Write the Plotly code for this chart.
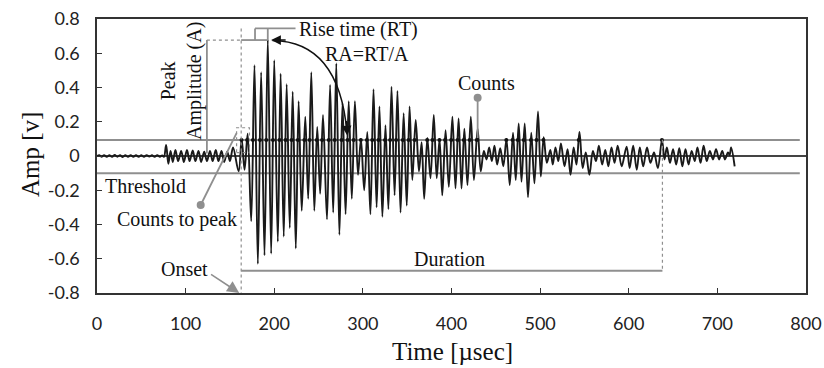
import plotly.graph_objects as go

# ---------------- data ----------------
wave_t = [0, 2.5, 5, 8, 11, 14, 17, 20, 23, 26, 29, 32, 35, 38, 41, 44, 47, 50, 53, 56, 59, 62, 65, 68, 71, 73.5,
          75.5, 78, 80.5, 83, 85.5, 88.5, 91.5, 95, 98, 101.5, 104.5, 108, 111, 114.5, 117.5, 121, 124, 127.5,
          130.5, 134, 137, 140.5, 143.5, 147, 150, 153.5,
          159.8, 163.2, 166.5, 170.0, 174.0, 177.7, 181.5, 185.2, 189.0, 192.7, 196.5, 200.0, 204.0, 207.2,
          210.7, 214.0, 217.5, 220.8, 224.3, 227.5, 231.0, 235.0, 238.3, 241.8, 245.2, 248.5, 251.8, 255.0,
          259.5, 263.0, 266.5, 270.0, 273.5, 277.0, 280.5, 284.0, 287.5, 291.0, 294.5, 297.8, 301.5, 305.0,
          308.5, 312.0, 315.5, 318.7, 322.0, 325.5, 328.8, 332.3, 335.8, 339.0, 342.5, 346.0, 349.5, 352.7,
          355.8, 359.6, 363.3, 366.3, 369.2, 372.7, 376.3, 380.0, 383.3, 386.5, 389.6, 393.3, 397.0, 401.0,
          404.5, 408.0, 411.3, 414.5, 418.0, 421.8, 425.3, 429.5, 433.0, 436.5, 439.5, 442.5, 445.5, 448.5,
          451.5, 455.0, 458.5, 462.0, 465.7, 469.4, 472.5, 475.8, 479.0, 482.6, 486.3, 490.0, 493.6, 497.6,
          500.8, 504.0, 507.6, 511.5, 514.3, 517.3, 520.5, 523.5, 527.5, 531.0, 534.3, 537.8, 541.0, 544.4,
          548.0, 551.5, 555.6, 559.5, 563.0, 566.3, 570.0, 573.5, 577.0, 580.5, 584.0, 587.5, 592.0, 597.6,
          601.0, 605.0, 609.0, 612.5, 616.3, 620.6, 624.5, 628.5, 632.8, 637.5, 640.3, 643.0, 646.5, 650.0,
          653.5, 657.0, 660.5, 664.0, 667.5, 671.0, 674.5, 677.5, 681.0, 684.5, 688.0, 691.5, 695.0, 698.5,
          702.0, 705.5, 708.5, 712.0, 713.8, 715.5, 719.5]
wave_v = [0.0, 0.005, -0.004, 0.005, -0.005, 0.004, -0.005, 0.006, -0.004, 0.005, -0.006, 0.004, -0.005, 0.005,
          -0.004, 0.005, -0.005, 0.004, -0.005, 0.005, -0.003, 0.004, -0.005, 0.005, -0.004, 0.003,
          -0.005, 0.065, -0.045, 0.03, -0.035, 0.035, -0.03, 0.03, -0.035, 0.035, -0.03, 0.032, -0.03, 0.03,
          -0.035, 0.025, -0.03, 0.03, -0.03, 0.035, -0.03, 0.03, -0.035, 0.025, -0.03, 0.05,
          -0.09, 0.10, -0.08, 0.13, -0.38, 0.53, -0.63, 0.49, -0.58, 0.68, -0.57, 0.56, -0.50, 0.48,
          -0.47, 0.42, -0.42, 0.375, -0.54, 0.32, -0.32, 0.23, -0.25, 0.49, -0.32, 0.17, -0.22, 0.24,
          -0.37, 0.415, -0.33, 0.54, -0.46, 0.31, -0.34, 0.32, -0.25, 0.32, -0.11, 0.10, -0.20, 0.14,
          -0.34, 0.39, -0.30, 0.29, -0.355, 0.18, -0.31, 0.405, -0.23, 0.38, -0.33, 0.25, -0.29, 0.29,
          -0.14, 0.21, -0.09, 0.08, -0.25, 0.105, -0.13, 0.24, -0.13, 0.10, -0.23, 0.15, -0.18, 0.23,
          -0.19, 0.22, -0.19, 0.16, -0.17, 0.23, -0.14, 0.16, -0.09, 0.03, -0.02, 0.05, -0.03, 0.06,
          -0.05, 0.045, -0.06, 0.10, -0.17, 0.136, -0.14, 0.19, -0.15, 0.19, -0.24, 0.136, -0.16, 0.26,
          -0.12, 0.11, -0.04, 0.035, -0.05, 0.05, -0.03, 0.074, -0.06, 0.04, -0.11, 0.05, -0.05, 0.14,
          -0.07, 0.02, -0.11, 0.03, -0.03, 0.06, -0.05, 0.035, -0.06, 0.05, -0.04, 0.06, -0.06, 0.055,
          -0.07, 0.06, -0.08, 0.05, -0.06, 0.05, -0.04, 0.02, -0.07, 0.095, -0.02, 0.05, -0.04, 0.04,
          -0.05, 0.045, -0.06, 0.04, -0.05, 0.03, -0.03, 0.05, -0.04, 0.06, -0.03, 0.03, -0.02, 0.04,
          -0.02, 0.03, -0.02, 0.02, 0.005, 0.05, -0.06]

threshold_up = 0.093
threshold_low = -0.100
onset_t = 162.7
peak_t = 192.7
peak_amp = 0.677
end_t = 638.0
duration_level = -0.67
counts_t = 429.5
counts_dot_v = 0.34
pa_line_t = 124.0
ctp_dot = (117.0, -0.286)
ctp_end = (157.5, 0.134)

x_ticks = [0, 100, 200, 300, 400, 500, 600, 700, 800]
x_ticklabels = ["0", "100", "200", "300", "400", "500", "600", "700", "800"]
y_ticks = [0.8, 0.6, 0.4, 0.2, 0.0, -0.2, -0.4, -0.6, -0.8]
y_ticklabels = ["0.8", "0.6", "0.4", "0.2", "0", "-0.2", "-0.4", "-0.6", "-0.8"]

GRAY = "#8f8f8f"
SERIF = "Liberation Serif"
L, R, T, B = 97, 18, 19, 75
W, H = 824, 368

cross_t = []
for i in range(1, len(wave_t)):
    a, b = wave_v[i - 1], wave_v[i]
    if a < threshold_up <= b:
        f = (threshold_up - a) / (b - a)
        cross_t.append(wave_t[i - 1] + f * (wave_t[i] - wave_t[i - 1]))

fig = go.Figure()

for lvl in (threshold_up, threshold_low):
    fig.add_trace(go.Scatter(x=[0, 793], y=[lvl, lvl], mode="lines",
                             line=dict(color=GRAY, width=2), hoverinfo="skip", showlegend=False))

fig.add_trace(go.Scatter(x=wave_t, y=wave_v, mode="lines",
                         line=dict(color="#1a1a1a", width=1.9, shape="spline", smoothing=1.0),
                         showlegend=False))

fig.add_trace(go.Scatter(x=cross_t, y=[threshold_up] * len(cross_t), mode="markers",
                         marker=dict(color="#111", size=4), showlegend=False))


def seg(x0, y0, x1, y1, dash="solid", color=GRAY, width=1.8):
    fig.add_shape(type="line", x0=x0, y0=y0, x1=x1, y1=y1, xref="x", yref="y",
                  line=dict(color=color, width=width, dash=dash))


top_v = 0.745
seg(onset_t, top_v, onset_t, -0.8, dash="dot", width=1.2)
seg(end_t, 0.095, end_t, duration_level, dash="dot", width=1.2)
seg(onset_t, duration_level, end_t, duration_level)
seg(pa_line_t, peak_amp, pa_line_t, 0.015)
seg(pa_line_t, peak_amp, onset_t, peak_amp, dash="dot", width=1.2)
seg(onset_t, peak_amp, peak_t, peak_amp)
seg(178.3, peak_amp, 178.3, top_v)
seg(178.3, top_v, 224.0, top_v)
seg(peak_t, top_v, peak_t, peak_amp)
seg(counts_t, counts_dot_v, counts_t, 0.105)
seg(ctp_dot[0], ctp_dot[1], ctp_end[0], ctp_end[1])
fig.add_shape(type="rect", x0=157.5, y0=0.02, x1=172, y1=0.165, xref="x", yref="y",
              line=dict(color=GRAY, width=1.2, dash="dot"))

fig.add_shape(type="path", path="M 198,0.675 Q 273,0.67 282,0.14", xref="x", yref="y",
              line=dict(color="#111", width=1.5))

fig.add_trace(go.Scatter(x=[counts_t, ctp_dot[0]], y=[counts_dot_v, ctp_dot[1]], mode="markers",
                         marker=dict(color=GRAY, size=8), showlegend=False))

ann = []


def txt(x, y, s, size=20, **kw):
    d = dict(x=x, y=y, xref="x", yref="y", text=s, showarrow=False,
             font=dict(family=SERIF, size=size, color="#111"))
    d.update(kw)
    ann.append(d)


def px2t(px):
    return (px - L) / ((W - L - R) / 800)


def py2v(py):
    return (156 - py) / 171.25


txt(px2t(358), py2v(29), "Rise time (RT)")
txt(px2t(367), py2v(54), "RA=RT/A")
txt(px2t(181), py2v(81), "Peak<br>Amplitude (A)", textangle=-90)
txt(px2t(486), py2v(83), "Counts")
txt(px2t(103), py2v(186), "Threshold", xanchor="left")
txt(px2t(177), py2v(219), "Counts to peak")
txt(px2t(184), py2v(269), "Onset")
txt(px2t(449), py2v(259), "Duration")

ann.append(dict(x=196.5, y=0.677, xref="x", yref="y", text="", showarrow=True, ax=16, ay=0,
                arrowhead=2, arrowsize=1.3, arrowwidth=1.5, arrowcolor="#111"))
ann.append(dict(x=282.3, y=0.12, xref="x", yref="y", text="", showarrow=True, ax=-1, ay=-16,
                arrowhead=2, arrowsize=1.3, arrowwidth=1.5, arrowcolor="#111"))
ann.append(dict(x=160.5, y=-0.8, xref="x", yref="y", axref="x", ayref="y", ax=127, ay=-0.685,
                text="", showarrow=True, arrowhead=2, arrowsize=1.5, arrowwidth=1.6, arrowcolor=GRAY))

ann.append(dict(x=(452 - L) / (W - L - R), y=(H - B - 351) / (H - B - T), xref="paper", yref="paper",
                text="Time [µsec]", showarrow=False, xanchor="center", yanchor="middle",
                font=dict(family=SERIF, size=25, color="#111")))
ann.append(dict(x=(30 - L) / (W - L - R), y=(H - B - 155) / (H - B - T), xref="paper", yref="paper",
                text="Amp [v]", showarrow=False, textangle=-90, xanchor="center", yanchor="middle",
                font=dict(family=SERIF, size=25, color="#111")))

fig.update_layout(
    width=W, height=H,
    margin=dict(l=L, r=R, t=T, b=B, autoexpand=False),
    plot_bgcolor="white", paper_bgcolor="white",
    annotations=ann,
    showlegend=False,
)
fig.update_xaxes(range=[0, 800], tickvals=x_ticks, ticktext=x_ticklabels, automargin=False,
                 showline=True, mirror=True, linecolor="#333", linewidth=1.5,
                 ticks="inside", ticklen=5, tickcolor="#333", showgrid=False, zeroline=False,
                 tickfont=dict(family="Lato", size=18, color="#222"), ticklabelstandoff=14)
fig.update_yaxes(range=[-0.8, 0.8], tickvals=y_ticks, ticktext=y_ticklabels, automargin=False,
                 showline=True, mirror=True, linecolor="#333", linewidth=1.5,
                 ticks="inside", ticklen=5, tickcolor="#333", showgrid=False,
                 zeroline=True, zerolinecolor="#444", zerolinewidth=1.5,
                 tickfont=dict(family="Lato", size=18, color="#222"), ticklabelstandoff=12)

fig.write_html("out.html", config={"displayModeBar": False},
               post_script="document.body.style.margin='0px';")
